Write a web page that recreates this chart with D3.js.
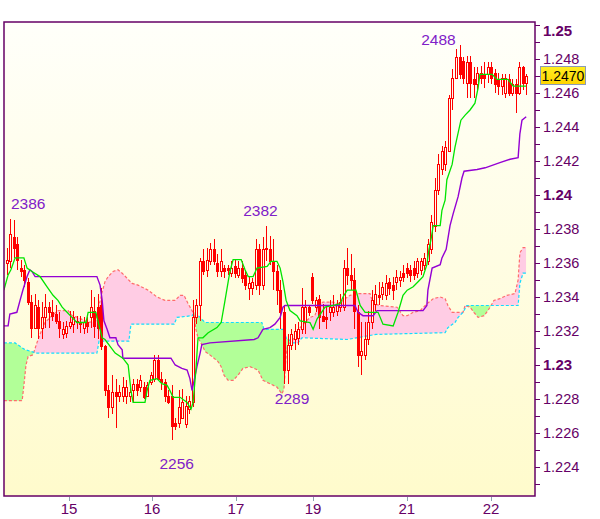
<!DOCTYPE html>
<html><head><meta charset="utf-8">
<script src="https://cdn.jsdelivr.net/npm/d3@7"></script>
<style>body{margin:0;background:#fff}svg{display:block}</style>
</head><body><svg id="c" width="600" height="519"></svg>
<script>
// ---------- DATA ----------
const opens=[1.2360,1.2361,1.2375,1.2371,1.2357,1.2356,1.2349,1.2337,1.2322,1.2334,1.2322,1.2328,1.2334,1.2331,1.2330,1.2326,1.2318,1.2319,1.2323,1.2324,
1.2326,1.2325,1.2322,1.2325,1.2328,1.2332,1.2334,1.2335,1.2311,1.2285,1.2275,1.2284,1.2282,1.2282,1.2282,1.2282,1.2285,1.2289,1.2287,1.2287,
1.2282,1.2290,1.2292,1.2303,1.2292,1.2290,1.2282,1.2282,1.2266,1.2266,1.2269,1.2265,1.2274,1.2278,1.2328,1.2335,1.2361,1.2356,1.2361,1.2368,
1.2360,1.2355,1.2357,1.2357,1.2354,1.2358,1.2353,1.2357,1.2353,1.2345,1.2345,1.2347,1.2368,1.2347,1.2369,1.2368,1.2361,1.2355,1.2344,1.2331,
1.2297,1.2312,1.2315,1.2316,1.2321,1.2325,1.2334,1.2352,1.2334,1.2339,1.2329,1.2328,1.2331,1.2331,1.2332,1.2334,1.2334,1.2357,1.2353,1.2350,
1.2331,1.2306,1.2306,1.2315,1.2325,1.2336,1.2341,1.2342,1.2341,1.2349,1.2347,1.2349,1.2350,1.2354,1.2357,1.2356,1.2357,1.2354,1.2356,1.2359,
1.2361,1.2368,1.2382,1.2403,1.2415,1.2418,1.2426,1.2457,1.2469,1.2481,1.2479,1.2466,1.2478,1.2468,1.2465,1.2472,1.2471,1.2471,1.2475,1.2472,
1.2468,1.2464,1.2460,1.2468,1.2460,1.2465,1.2460,1.2475,1.2466];
const highs=[1.2369,1.2386,1.2385,1.2375,1.2362,1.2359,1.2351,1.2341,1.2342,1.2338,1.2337,1.2342,1.2337,1.2338,1.2335,1.2331,1.2325,1.2326,1.2332,1.2332,
1.2329,1.2329,1.2328,1.2328,1.2344,1.2340,1.2342,1.2345,1.2312,1.2288,1.2294,1.2292,1.2288,1.2293,1.2291,1.2288,1.2292,1.2292,1.2294,1.2290,
1.2290,1.2296,1.2306,1.2306,1.2296,1.2292,1.2285,1.2288,1.2269,1.2285,1.2286,1.2282,1.2282,1.2338,1.2339,1.2363,1.2368,1.2369,1.2372,1.2374,
1.2365,1.2368,1.2359,1.2359,1.2361,1.2362,1.2361,1.2361,1.2356,1.2352,1.2351,1.2374,1.2371,1.2375,1.2382,1.2376,1.2374,1.2359,1.2350,1.2335,
1.2318,1.2321,1.2324,1.2325,1.2345,1.2338,1.2335,1.2354,1.2340,1.2341,1.2336,1.2335,1.2338,1.2341,1.2338,1.2342,1.2362,1.2369,1.2365,1.2357,
1.2335,1.2325,1.2325,1.2332,1.2344,1.2347,1.2349,1.2349,1.2353,1.2351,1.2352,1.2356,1.2355,1.2359,1.2360,1.2359,1.2361,1.2363,1.2363,1.2366,
1.2374,1.2388,1.2410,1.2424,1.2429,1.2432,1.2459,1.2474,1.2486,1.2488,1.2481,1.2482,1.2482,1.2475,1.2475,1.2476,1.2478,1.2478,1.2478,1.2474,
1.2472,1.2471,1.2471,1.2471,1.2468,1.2468,1.2478,1.2476,1.2471];
const lows=[1.2353,1.2357,1.2363,1.2356,1.2352,1.2346,1.2335,1.2316,1.2321,1.2315,1.2315,1.2322,1.2322,1.2326,1.2324,1.2316,1.2315,1.2316,1.2321,1.2319,
1.2321,1.2319,1.2318,1.2319,1.2322,1.2316,1.2315,1.2309,1.2282,1.2269,1.2271,1.2263,1.2278,1.2278,1.2277,1.2278,1.2278,1.2282,1.2284,1.2280,
1.2281,1.2288,1.2290,1.2291,1.2285,1.2278,1.2277,1.2256,1.2262,1.2263,1.2268,1.2263,1.2271,1.2275,1.2324,1.2326,1.2353,1.2352,1.2359,1.2359,
1.2352,1.2352,1.2351,1.2353,1.2352,1.2351,1.2351,1.2348,1.2344,1.2338,1.2341,1.2344,1.2341,1.2344,1.2361,1.2359,1.2344,1.2335,1.2321,1.2289,
1.2289,1.2309,1.2309,1.2312,1.2318,1.2318,1.2329,1.2336,1.2331,1.2321,1.2325,1.2321,1.2326,1.2328,1.2329,1.2331,1.2332,1.2347,1.2344,1.2321,
1.2299,1.2294,1.2303,1.2312,1.2321,1.2332,1.2335,1.2338,1.2338,1.2341,1.2338,1.2344,1.2346,1.2349,1.2351,1.2349,1.2350,1.2351,1.2353,1.2356,
1.2359,1.2365,1.2378,1.2400,1.2412,1.2414,1.2425,1.2450,1.2468,1.2468,1.2465,1.2457,1.2457,1.2457,1.2461,1.2465,1.2463,1.2466,1.2465,1.2460,
1.2459,1.2459,1.2457,1.2458,1.2458,1.2448,1.2459,1.2462,1.2459];
const closes=[1.2362,1.2377,1.2369,1.2362,1.2355,1.2350,1.2337,1.2322,1.2335,1.2322,1.2328,1.2334,1.2331,1.2329,1.2326,1.2322,1.2321,1.2323,1.2325,1.2328,
1.2325,1.2324,1.2325,1.2323,1.2334,1.2323,1.2322,1.2311,1.2285,1.2275,1.2284,1.2282,1.2284,1.2287,1.2287,1.2284,1.2289,1.2285,1.2291,1.2281,
1.2288,1.2294,1.2303,1.2292,1.2290,1.2282,1.2278,1.2264,1.2264,1.2275,1.2278,1.2276,1.2279,1.2328,1.2335,1.2361,1.2355,1.2362,1.2368,1.2361,
1.2355,1.2361,1.2355,1.2356,1.2357,1.2354,1.2357,1.2351,1.2347,1.2348,1.2349,1.2368,1.2347,1.2368,1.2368,1.2361,1.2355,1.2344,1.2331,1.2297,
1.2312,1.2318,1.2320,1.2321,1.2334,1.2334,1.2331,1.2338,1.2338,1.2328,1.2326,1.2327,1.2334,1.2334,1.2335,1.2337,1.2357,1.2353,1.2350,1.2332,
1.2306,1.2308,1.2315,1.2325,1.2338,1.2342,1.2340,1.2346,1.2348,1.2345,1.2344,1.2352,1.2352,1.2352,1.2354,1.2353,1.2353,1.2361,1.2361,1.2363,
1.2371,1.2384,1.2403,1.2418,1.2426,1.2428,1.2457,1.2469,1.2481,1.2471,1.2469,1.2478,1.2466,1.2465,1.2472,1.2469,1.2469,1.2475,1.2469,1.2465,
1.2464,1.2469,1.2469,1.2460,1.2465,1.2460,1.2475,1.2466,1.2470];

// Ichimoku lines: [candle index, price]
const tenkan=[[-0.8,1.2344],[0.4,1.2353],[1.2,1.2356],[2.4,1.2363],[4.9,1.2363],[5.8,1.2357],[7.2,1.2355],[9.5,1.2352],[11.5,1.2346],[13.2,1.2341],
[14.6,1.2338],[15.8,1.2334],[17.2,1.2331],[18.6,1.2328],[20.0,1.2325],[22.6,1.2325],[23.2,1.2331],[25.4,1.2331],[26.6,1.2321],[27.2,1.2316],
[28.0,1.2315],[30.9,1.2307],[33.1,1.2304],[34.6,1.2300],[35.4,1.2285],[36.0,1.2278],[39.4,1.2278],[40.0,1.2285],[40.8,1.2291],[42.8,1.2292],
[44.2,1.2289],[45.7,1.2288],[46.5,1.2285],[47.4,1.2281],[49.4,1.2281],[51.4,1.2278],[52.5,1.2274],[53.1,1.2278],[53.9,1.2297],[54.5,1.2316],
[55.9,1.2316],[57.4,1.2319],[59.9,1.2322],[61.1,1.2325],[62.2,1.2338],[63.1,1.2349],[63.6,1.2355],[64.5,1.2362],[66.8,1.2362],[67.9,1.2356],
[68.8,1.2352],[70.2,1.2352],[71.3,1.2357],[74.2,1.2358],[75.3,1.2361],[77.0,1.2361],[77.9,1.2357],[78.7,1.2349],[79.6,1.2338],[80.7,1.2332],
[82.7,1.2329],[83.6,1.2326],[86.4,1.2325],[87.3,1.2321],[88.4,1.2327],[90.7,1.2334],[95.0,1.2336],[95.8,1.2340],[97.0,1.2344],[99.5,1.2344],
[100.7,1.2335],[102.1,1.2331],[105.8,1.2331],[107.2,1.2324],[110.1,1.2323],[111.5,1.2331],[112.9,1.2341],[114.1,1.2344],[115.8,1.2346],[117.2,1.2349],
[118.6,1.2352],[119.7,1.2359],[120.3,1.2368],[120.9,1.2374],[121.5,1.2382],[123.5,1.2382],[124.0,1.2391],[124.9,1.2397],[125.4,1.2409],[126.9,1.2418],
[127.7,1.2428],[129.4,1.2444],[130.6,1.2447],[132.0,1.2450],[133.4,1.2454],[134.3,1.2463],[134.8,1.2471],[138.3,1.2471],[139.7,1.2468],[142.8,1.2468],
[144.3,1.2464],[148.0,1.2464]];
const kijun=[[-0.8,1.2323],[0.4,1.2323],[0.9,1.2330],[2.9,1.2331],[3.8,1.2338],[4.6,1.2344],[5.8,1.2352],[6.6,1.2356],[7.2,1.2355],[8.1,1.2352],
[25.7,1.2352],[26.6,1.2347],[27.2,1.2338],[27.7,1.2326],[28.6,1.2321],[29.4,1.2316],[31.1,1.2316],[31.7,1.2312],[32.9,1.2309],[33.1,1.2304],
[46.8,1.2304],[48.0,1.2300],[49.9,1.2298],[51.4,1.2297],[52.2,1.2292],[52.8,1.2285],[53.4,1.2291],[54.2,1.2299],[55.1,1.2307],[55.6,1.2312],
[57.9,1.2313],[70.5,1.2315],[71.6,1.2316],[73.0,1.2321],[75.0,1.2322],[76.4,1.2324],[77.9,1.2328],[78.7,1.2334],[79.3,1.2335],[99.2,1.2335],
[100.1,1.2331],[101.5,1.2329],[104.4,1.2329],[105.5,1.2332],[118.6,1.2332],[119.7,1.2335],[120.0,1.2344],[121.2,1.2357],[123.5,1.2359],[124.0,1.2363],
[125.2,1.2368],[126.3,1.2382],[127.2,1.2389],[128.6,1.2399],[129.7,1.2410],[130.3,1.2414],[134.0,1.2415],[136.3,1.2416],[140.5,1.2419],[143.4,1.2421],
[145.7,1.2422],[146.2,1.2436],[146.8,1.2444],[148.0,1.2446]];
const spanA=[[-0.8,1.2313],[2.4,1.2313],[5.2,1.2309],[8.6,1.2307],[25.7,1.2307],[26.3,1.2314],[34.8,1.2314],[35.4,1.2324],[47.7,1.2324],[48.5,1.2328],
[52.8,1.2329],[53.6,1.2331],[55.1,1.2328],[56.5,1.2325],[72.7,1.2325],[73.3,1.2321],[79.0,1.2321],[79.6,1.2316],[81.6,1.2313],[83.0,1.2313],
[84.1,1.2316],[97.0,1.2315],[105.2,1.2318],[124.9,1.2319],[125.7,1.2322],[127.7,1.2325],[128.6,1.2328],[130.0,1.2331],[131.1,1.2335],[145.7,1.2335],
[146.2,1.2348],[147.1,1.2354],[148.0,1.2354]];
const spanB=[[-0.8,1.2279],[4.4,1.2279],[4.9,1.2288],[5.5,1.2300],[6.1,1.2305],[7.5,1.2306],[8.6,1.2313],[9.5,1.2318],[10.9,1.2325],[12.9,1.2329],
[14.6,1.2332],[17.5,1.2332],[18.6,1.2329],[20.3,1.2328],[23.2,1.2325],[25.4,1.2326],[26.3,1.2335],[27.2,1.2343],[28.0,1.2349],[28.9,1.2352],
[30.3,1.2355],[31.7,1.2356],[32.9,1.2354],[34.3,1.2351],[35.7,1.2348],[37.4,1.2347],[40.3,1.2344],[42.8,1.2340],[45.1,1.2338],[48.0,1.2338],
[49.4,1.2341],[50.5,1.2341],[51.7,1.2336],[52.8,1.2332],[53.4,1.2329],[53.9,1.2321],[54.5,1.2316],[55.6,1.2312],[56.5,1.2308],[58.5,1.2305],
[60.2,1.2302],[61.1,1.2299],[61.9,1.2294],[63.1,1.2291],[64.5,1.2291],[65.9,1.2294],[67.3,1.2298],[69.3,1.2299],[71.6,1.2297],[73.0,1.2291],
[75.0,1.2289],[77.0,1.2287],[78.4,1.2283],[79.0,1.2286],[79.6,1.2306],[80.1,1.2312],[80.7,1.2313],[81.6,1.2315],[83.6,1.2322],[85.0,1.2325],
[86.4,1.2328],[87.8,1.2329],[88.7,1.2335],[90.1,1.2337],[93.0,1.2337],[94.4,1.2336],[95.8,1.2338],[97.8,1.2341],[100.1,1.2342],[103.5,1.2342],
[104.4,1.2336],[106.4,1.2335],[111.2,1.2334],[112.9,1.2329],[114.1,1.2329],[115.8,1.2331],[117.8,1.2332],[119.7,1.2336],[121.5,1.2339],[123.5,1.2340],
[124.9,1.2339],[125.7,1.2335],[126.9,1.2331],[130.0,1.2331],[130.6,1.2335],[132.0,1.2334],[133.1,1.2331],[134.3,1.2328],[136.0,1.2329],[137.1,1.2332],
[138.0,1.2335],[138.8,1.2338],[140.5,1.2339],[142.5,1.2341],[144.8,1.2342],[145.7,1.2350],[146.2,1.2366],[147.1,1.2369],[148.0,1.2369]];

const dayTickIndex=[17.75,41.4,65.3,87.3,114.0,138.0];
const dayTickLabels=["15","16","17","19","21","22"];
const annIndex=[1,47,74,80,129];
const annValue=[1.2386,1.2256,1.2382,1.2289,1.2488];
const annLabels=["2386","2256","2382","2289","2488"];

// ---------- LAYOUT ----------
const L=4,R=535,T=22,B=496;
const x=d3.scaleLinear().domain([0,148]).range([6.7,526.2]);
const y=d3.scaleLinear().domain([1.222294,1.250176]).range([B,T]);
const svg=d3.select("#c");
const defs=svg.append("defs");
const bg=defs.append("linearGradient").attr("id","bg").attr("x1",0).attr("y1",0).attr("x2",0).attr("y2",1);
bg.append("stop").attr("offset","0%").attr("stop-color","#fffffa");
bg.append("stop").attr("offset","100%").attr("stop-color","#fffbcc");
const yb=defs.append("linearGradient").attr("id","yb").attr("x1",0).attr("y1",0).attr("x2",0).attr("y2",1);
yb.append("stop").attr("offset","0%").attr("stop-color","#ffee22");
yb.append("stop").attr("offset","100%").attr("stop-color","#ffd400");
defs.append("clipPath").attr("id","plot").append("rect").attr("x",L).attr("y",T).attr("width",R-L).attr("height",B-T);

const aboveArea=d3.area().x(d=>x(d[0])).y0(T-20).y1(d=>y(d[1]));
const belowArea=d3.area().x(d=>x(d[0])).y0(d=>y(d[1])).y1(B+20);
defs.append("clipPath").attr("id","aboveA").append("path").attr("d",aboveArea(spanA));
defs.append("clipPath").attr("id","aboveB").append("path").attr("d",aboveArea(spanB));

svg.append("rect").attr("x",L).attr("y",T).attr("width",R-L).attr("height",B-T).attr("fill","url(#bg)");

const g=svg.append("g").attr("clip-path","url(#plot)");
// cloud
g.append("g").attr("clip-path","url(#aboveA)").append("path").attr("d",belowArea(spanB)).attr("fill","#ffcce4");
g.append("g").attr("clip-path","url(#aboveB)").append("path").attr("d",belowArea(spanA)).attr("fill","#b2ff98");
const line=d3.line().x(d=>x(d[0])).y(d=>y(d[1]));
g.append("path").attr("d",line(spanB)).attr("fill","none").attr("stroke","#ff6c6c").attr("stroke-width",1.2).attr("stroke-dasharray","3,2");
g.append("path").attr("d",line(spanA)).attr("fill","none").attr("stroke","#11ddff").attr("stroke-width",1.2).attr("stroke-dasharray","3,2");

// candles
const cg=g.append("g").attr("shape-rendering","crispEdges");
opens.forEach((o,i)=>{
  const cx=Math.round(x(i)), c=closes[i];
  cg.append("line").attr("x1",cx+0.5).attr("x2",cx+0.5).attr("y1",y(highs[i])).attr("y2",y(lows[i])).attr("stroke","#ff0000").attr("stroke-width",1);
  const top=Math.round(y(Math.max(o,c))), bot=Math.round(y(Math.min(o,c)));
  if(c>=o){
    cg.append("rect").attr("x",cx-0.5).attr("y",top+0.5).attr("width",2).attr("height",Math.max(1,bot-top)).attr("fill","#fffff0").attr("stroke","#ff0000").attr("stroke-width",1);
  } else {
    cg.append("rect").attr("x",cx-1).attr("y",top).attr("width",3).attr("height",Math.max(1,bot-top+1)).attr("fill","#ff0000");
  }
});

g.append("path").attr("d",line(kijun)).attr("fill","none").attr("stroke","#9400d3").attr("stroke-width",1.4);
g.append("path").attr("d",line(tenkan)).attr("fill","none").attr("stroke","#00e400").attr("stroke-width",1.3);

// frame
svg.append("rect").attr("x",L).attr("y",T).attr("width",R-L).attr("height",B-T).attr("fill","none").attr("stroke","#660066").attr("stroke-width",1.5);

// y axis
const font="'Liberation Sans', Arial, sans-serif";
const yTicks=d3.range(1223,1251).map(v=>v/1000);
svg.selectAll(".yt").data(yTicks).enter().append("line")
  .attr("x1",R).attr("x2",R+5).attr("y1",d=>Math.round(y(d))+0.5).attr("y2",d=>Math.round(y(d))+0.5)
  .attr("stroke","#660066").attr("stroke-width",1);
const yLab=yTicks.filter(v=>Math.round(v*1000)%2===0);
svg.selectAll(".yl").data(yLab).enter().append("text")
  .attr("x",543).attr("y",d=>Math.max(y(d),30.5)).attr("dy","0.36em")
  .attr("font-family",font)
  .attr("font-size",d=>Math.round(d*1000)%10===0?15:14.5)
  .attr("font-weight",d=>Math.round(d*1000)%10===0?"bold":"normal")
  .attr("fill","#660066")
  .text(d=>Math.round(d*1000)%10===0?d3.format(".2f")(d):d3.format(".3f")(d));

// x axis
svg.selectAll(".xt").data(dayTickIndex).enter().append("line")
  .attr("x1",d=>Math.round(x(d))+0.5).attr("x2",d=>Math.round(x(d))+0.5).attr("y1",B+1).attr("y2",B+5)
  .attr("stroke","#8fa0b0").attr("stroke-width",1);
svg.selectAll(".xl").data(dayTickIndex).enter().append("text")
  .attr("x",d=>x(d)).attr("y",509).attr("dy","0.36em").attr("text-anchor","middle")
  .attr("font-family",font).attr("font-size",15).attr("fill","#660066")
  .text((d,i)=>dayTickLabels[i]);

// last price box
const last=closes[closes.length-1];
svg.append("rect").attr("x",540.5).attr("y",Math.round(y(last))-9.5).attr("width",45).attr("height",18)
  .attr("fill","url(#yb)").attr("stroke","#8a9ab8").attr("stroke-width",1);
svg.append("text").attr("x",563).attr("y",y(last)).attr("dy","0.36em").attr("text-anchor","middle")
  .attr("font-family",font).attr("font-size",14).attr("fill","#000").text(d3.format(".4f")(last));

// annotations (offsets are label placement)
const annDx=[18,5,-6,4.5,-21], annDy=[-15,24,-15,15,-6];
annLabels.forEach((t,i)=>{
  svg.append("text").attr("x",x(annIndex[i])+annDx[i]).attr("y",y(annValue[i])+annDy[i]).attr("dy","0.36em")
    .attr("text-anchor","middle").attr("font-family",font).attr("font-size",15.5).attr("fill","#8020c8").text(t);
});
</script></body></html>
